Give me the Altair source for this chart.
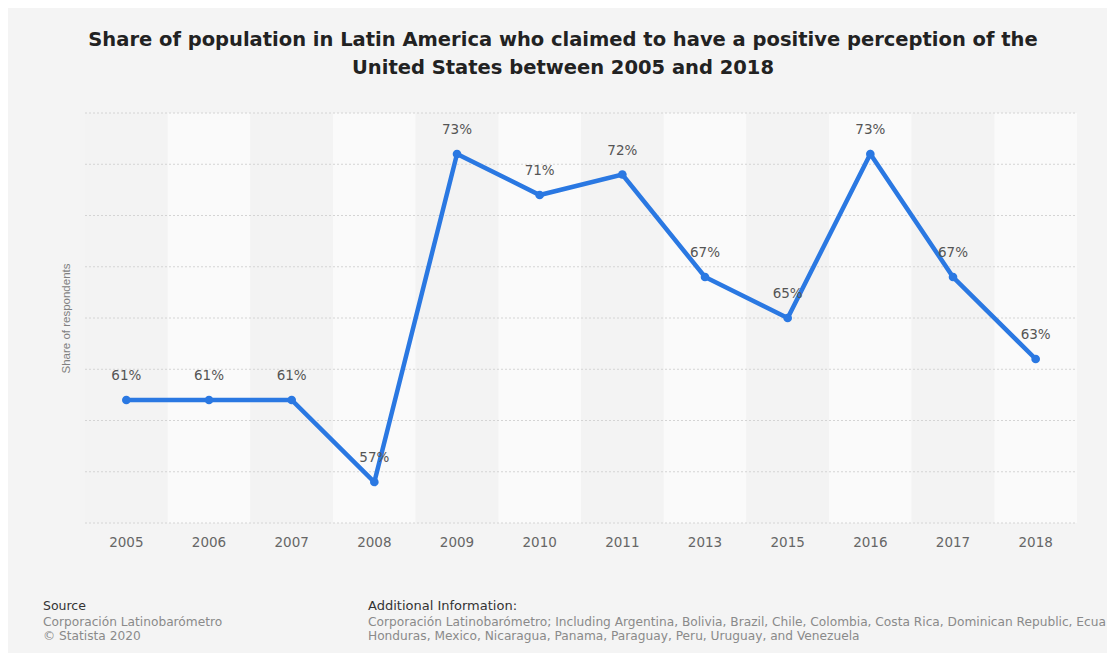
import altair as alt
import pandas as pd

years = ["2005", "2006", "2007", "2008", "2009", "2010", "2011", "2013", "2015", "2016", "2017", "2018"]
shares = [61, 61, 61, 57, 73, 71, 72, 67, 65, 73, 67, 63]
grid_values = [55, 57.5, 60, 62.5, 65, 67.5, 70, 72.5, 75]

title_lines = [
    "Share of population in Latin America who claimed to have a positive perception of the",
    "United States between 2005 and 2018",
]
y_title = "Share of respondents"
source_head = "Source"
source_lines = ["Corporación Latinobarómetro", "© Statista 2020"]
info_head = "Additional Information:"
info_lines = [
    "Corporación Latinobarómetro; Including Argentina, Bolivia, Brazil, Chile, Colombia, Costa Rica, Dominican Republic, Ecuador, El Salvador, Guatemala,",
    "Honduras, Mexico, Nicaragua, Panama, Paraguay, Peru, Uruguay, and Venezuela",
]

FONT = "DejaVu Sans"
FONT2 = "Liberation Sans"
W, H = 992, 410

df = pd.DataFrame({
    "year": years,
    "share": shares,
    "label": [f"{v}%" for v in shares],
    "band": [i % 2 for i in range(len(years))],
})
grid_df = pd.DataFrame({"g": grid_values})
one = pd.DataFrame({"k": [0]})

xenc = alt.X(
    "year:O", sort=years, title=None,
    scale=alt.Scale(paddingInner=0, paddingOuter=0),
    axis=alt.Axis(labelFont=FONT, labelFontSize=13.5, labelColor="#666666", labelPadding=12,
                  ticks=False, domain=False, labelAngle=0),
)
yscale = alt.Scale(domain=[55, 75], nice=False, zero=False)

bands = alt.Chart(df).mark_rect().encode(
    x=xenc,
    y=alt.value(0), y2=alt.value(H),
    color=alt.Color("band:N", scale=alt.Scale(domain=[0, 1], range=["#f3f3f3", "#fafafa"]), legend=None),
)

grid = alt.Chart(grid_df).mark_rule(color="#d4d4d4", strokeDash=[2, 2], strokeWidth=1).encode(
    y=alt.Y("g:Q", scale=yscale, title=y_title,
            axis=alt.Axis(labels=False, ticks=False, domain=False, grid=False,
                          titleFont=FONT2, titleFontSize=11.5, titleColor="#808080",
                          titleFontWeight="normal", titlePadding=14)),
    x=alt.value(0), x2=alt.value(W),
)

line = alt.Chart(df).mark_line(color="#2a78e2", strokeWidth=4.5).encode(
    x=alt.X("year:O", sort=years), y=alt.Y("share:Q", scale=yscale)
)
points = alt.Chart(df).mark_point(filled=True, color="#2a78e2", size=75, opacity=1).encode(
    x=alt.X("year:O", sort=years), y=alt.Y("share:Q", scale=yscale)
)
labels = alt.Chart(df).mark_text(font=FONT, fontSize=13.5, color="#555555", dy=-24).encode(
    x=alt.X("year:O", sort=years), y=alt.Y("share:Q", scale=yscale), text="label:N"
)

src_head = alt.Chart(one).mark_text(font=FONT, fontSize=12.5, color="#333333", align="left", baseline="middle").encode(
    x=alt.value(-42), y=alt.value(493), text=alt.value(source_head))
src_body = alt.Chart(one).mark_text(font=FONT, fontSize=12.2, color="#8a8a8a", align="left", baseline="middle",
                                    lineBreak="\n", lineHeight=14).encode(
    x=alt.value(-42), y=alt.value(509), text=alt.value("\n".join(source_lines)))
inf_head = alt.Chart(one).mark_text(font=FONT, fontSize=13, color="#333333", align="left", baseline="middle").encode(
    x=alt.value(283), y=alt.value(493), text=alt.value(info_head))
inf_body = alt.Chart(one).mark_text(font=FONT, fontSize=12.2, color="#8a8a8a", align="left", baseline="middle",
                                    lineBreak="\n", lineHeight=14, limit=745, ellipsis=" ").encode(
    x=alt.value(283), y=alt.value(509), text=alt.value("\n".join(info_lines)))

chart = alt.layer(bands, grid, line, points, labels, src_head, src_body, inf_head, inf_body).properties(
    width=W, height=H,
    autosize=alt.AutoSizeParams(type="none"),
    padding={"left": 77, "top": 105, "right": 30, "bottom": 130},
    background="#f4f4f4",
    title=alt.TitleParams(
        text=title_lines, font=FONT, fontSize=19.5, fontWeight="bold", color="#222222",
        anchor="middle", dx=-18, offset=34, lineHeight=28,
    ),
).configure_view(stroke=None)

chart.save("out.html", embed_options={"renderer": "svg", "actions": False})
